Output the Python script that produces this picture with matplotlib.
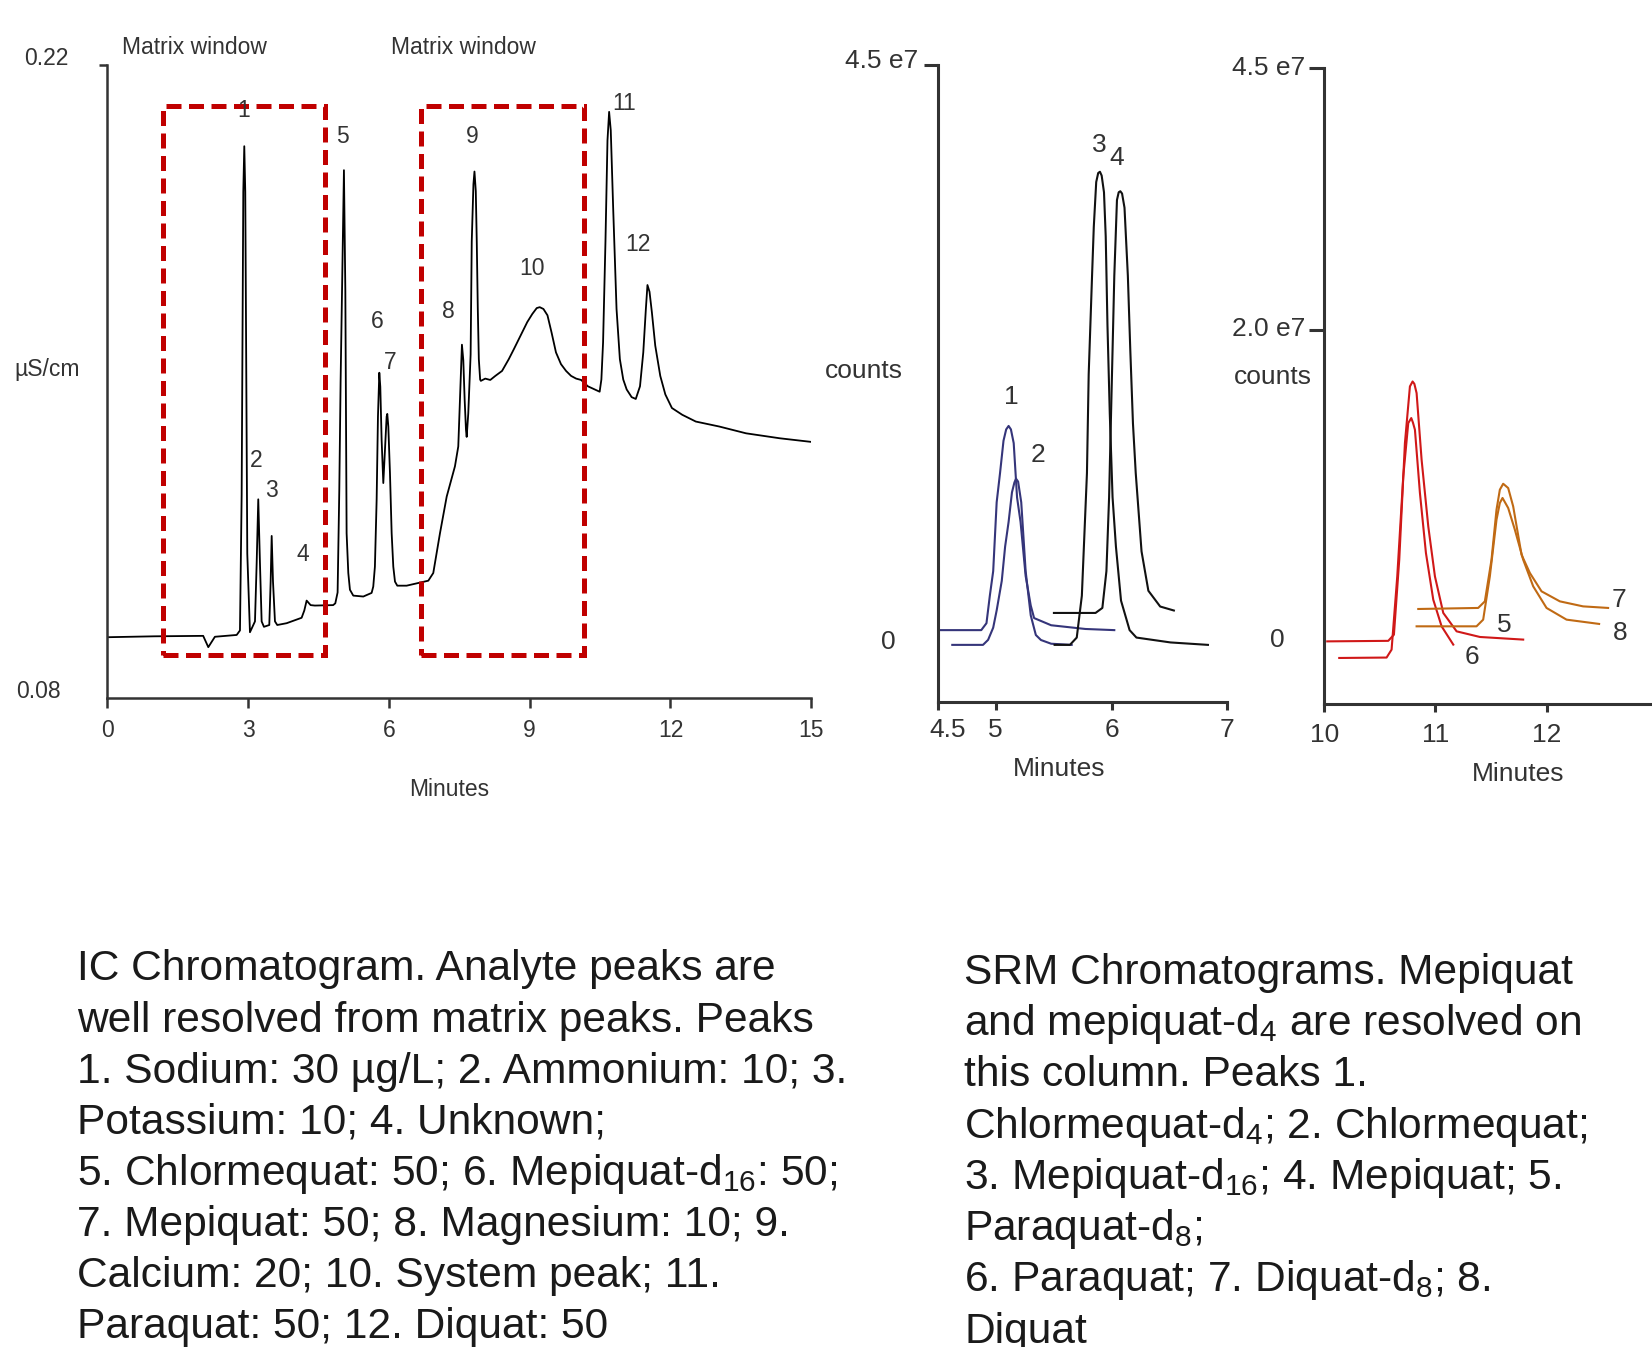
import matplotlib
matplotlib.use("Agg")
import matplotlib.pyplot as plt
from matplotlib.patches import Rectangle
from matplotlib.transforms import ScaledTranslation

plt.rcParams['font.family'] = ['Liberation Sans', 'DejaVu Sans']
plt.rcParams['mathtext.fontset'] = 'custom'
plt.rcParams['mathtext.rm'] = 'Liberation Sans'
plt.rcParams['mathtext.it'] = 'Liberation Sans:italic'
plt.rcParams['mathtext.bf'] = 'Liberation Sans:bold'
plt.rcParams['mathtext.default'] = 'regular'

# ---- IC chromatogram (minutes, uS/cm) ----
ic_time = [0.0, 1.0, 2.04, 2.149, 2.29, 2.754, 2.824, 2.86, 2.895, 2.916, 2.937, 2.98, 3.037,
           3.144, 3.18, 3.214, 3.25, 3.286, 3.335, 3.449, 3.478, 3.50, 3.528, 3.57, 3.619,
           3.819, 4.138, 4.195, 4.245, 4.33, 4.42, 4.81, 4.856, 4.905, 4.941, 4.969, 5.04,
           5.07, 5.097, 5.133, 5.168, 5.239, 5.453, 5.63, 5.665, 5.70, 5.737, 5.765, 5.794,
           5.815, 5.843, 5.879, 5.914, 5.95, 5.964, 5.986, 6.021, 6.057, 6.092, 6.128, 6.177,
           6.376, 6.838, 6.944, 7.087, 7.23, 7.406, 7.477, 7.513, 7.555, 7.584, 7.613, 7.641,
           7.656, 7.69, 7.74, 7.764, 7.80, 7.822, 7.85, 7.871, 7.893, 7.915, 7.943, 7.958,
           8.052, 8.159, 8.267, 8.41, 8.553, 8.661, 8.804, 8.947, 9.055, 9.149, 9.213, 9.292,
           9.378, 9.465, 9.559, 9.666, 9.774, 9.881, 9.989, 10.096, 10.239, 10.383, 10.49,
           10.527, 10.563, 10.614, 10.657, 10.692, 10.727, 10.778, 10.85, 10.921, 10.993,
           11.066, 11.172, 11.26, 11.35, 11.42, 11.475, 11.509, 11.553, 11.603, 11.675,
           11.782, 11.89, 12.03, 12.25, 12.54, 13.04, 13.61, 14.33, 15.0]
ic_signal = [0.0935, 0.0937, 0.0938, 0.0913, 0.0936, 0.0940, 0.0950, 0.125, 0.192, 0.2021,
             0.192, 0.112, 0.0946, 0.0970, 0.1099, 0.1240, 0.1099, 0.0970, 0.0958, 0.0962,
             0.1058, 0.1159, 0.1058, 0.0970, 0.0962, 0.0966, 0.0978, 0.0994, 0.1016, 0.1006,
             0.1005, 0.1006, 0.1010, 0.1034, 0.1260, 0.1501, 0.1968, 0.1700, 0.1165, 0.1077,
             0.1040, 0.1027, 0.1025, 0.1033, 0.1047, 0.1091, 0.1239, 0.1423, 0.1520, 0.1489,
             0.1372, 0.1276, 0.1349, 0.1423, 0.1429, 0.1401, 0.1298, 0.1165, 0.1091, 0.1058,
             0.1049, 0.1049, 0.1060, 0.1077, 0.1165, 0.1246, 0.1313, 0.1357, 0.1460, 0.1582,
             0.1548, 0.1460, 0.1394, 0.1378, 0.1430, 0.1560, 0.1810, 0.1937, 0.1965, 0.1922,
             0.1810, 0.1661, 0.1550, 0.1505, 0.1502, 0.1507, 0.1504, 0.1513, 0.1524, 0.1550,
             0.1572, 0.1602, 0.1632, 0.1650, 0.1663, 0.1665, 0.1661, 0.1647, 0.1609, 0.1565,
             0.1539, 0.1524, 0.1513, 0.1507, 0.1504, 0.1490, 0.1483, 0.1478, 0.1505, 0.1587,
             0.1810, 0.2034, 0.2097, 0.2056, 0.1885, 0.1661, 0.1550, 0.1505, 0.1483, 0.1466,
             0.1462, 0.1490, 0.1565, 0.1661, 0.1714, 0.1699, 0.1654, 0.1580, 0.1513, 0.1472,
             0.1442, 0.1427, 0.1412, 0.1401, 0.1386, 0.1375, 0.1367]
ic_peak_ids = ['1', '2', '3', '4', '5', '6', '7', '8', '9', '10', '11', '12']
ic_peak_t = [2.897, 3.166, 3.503, 4.155, 5.008, 5.749, 6.018, 7.276, 7.770, 9.050, 11.004, 11.296]
ic_peak_v = [0.2100, 0.1326, 0.1259, 0.1117, 0.2042, 0.1634, 0.1543, 0.1655, 0.2042, 0.1750, 0.2116, 0.1804]
matrix_start = [1.19, 6.69]
matrix_end = [4.63, 10.15]
matrix_low, matrix_high = 0.0896, 0.2111

# ---- SRM chromatograms, peaks 1-4 (minutes, counts x 1e7) ----
srm1_t = [4.479, 4.876, 4.921, 4.95, 4.979, 5.009, 5.038, 5.068, 5.091, 5.112, 5.132, 5.156,
          5.185, 5.215, 5.259, 5.303, 5.332, 5.479, 5.774, 6.024]
srm1_c = [0.096, 0.096, 0.15, 0.364, 0.556, 1.093, 1.32, 1.573, 1.661, 1.688, 1.661, 1.554,
          1.13, 0.94, 0.518, 0.288, 0.19, 0.134, 0.105, 0.096]
srm2_t = [4.626, 4.891, 4.935, 4.979, 5.009, 5.053, 5.082, 5.112, 5.141, 5.162, 5.176, 5.194,
          5.221, 5.259, 5.303, 5.347, 5.391, 5.479, 5.656]
srm2_c = [-0.019, -0.019, 0.02, 0.115, 0.25, 0.48, 0.748, 0.94, 1.17, 1.247, 1.277, 1.254,
          1.093, 0.556, 0.211, 0.058, 0.019, -0.01, -0.019]
srm3_t = [5.509, 5.641, 5.70, 5.744, 5.788, 5.803, 5.832, 5.847, 5.868, 5.885, 5.90, 5.915,
          5.935, 5.95, 5.965, 5.985, 6.009, 6.038, 6.082, 6.156, 6.215, 6.362, 6.509, 6.832]
srm3_c = [-0.019, -0.019, 0.038, 0.364, 1.32, 2.09, 2.858, 3.24, 3.59, 3.66, 3.67, 3.64,
          3.51, 3.165, 2.474, 1.784, 1.132, 0.748, 0.326, 0.096, 0.038, 0.019, 0.0, -0.019]
srm4_t = [5.503, 5.862, 5.921, 5.956, 5.979, 5.994, 6.009, 6.024, 6.047, 6.062, 6.076, 6.091,
          6.112, 6.141, 6.162, 6.185, 6.209, 6.259, 6.318, 6.42, 6.538]
srm4_c = [0.23, 0.23, 0.269, 0.556, 1.13, 1.707, 2.28, 2.858, 3.45, 3.51, 3.518, 3.50,
          3.39, 2.858, 2.28, 1.707, 1.32, 0.71, 0.403, 0.28, 0.249]
srm_a_ids = ['1', '2', '3', '4']
srm_a_t = [5.136, 5.364, 5.891, 6.045]
srm_a_c = [1.913, 1.462, 3.876, 3.777]

# ---- SRM chromatograms, peaks 5-8 ----
srm5_t = [10.026, 10.575, 10.626, 10.674, 10.725, 10.77, 10.794, 10.81, 10.83, 10.875, 10.935,
          10.995, 11.07, 11.19, 11.4, 11.789]
srm5_c = [-0.985, -0.98, -0.921, -0.203, 0.914, 1.456, 1.503, 1.48, 1.392, 0.754, 0.116,
          -0.363, -0.713, -0.889, -0.943, -0.968]
srm6_t = [10.134, 10.56, 10.605, 10.656, 10.71, 10.755, 10.782, 10.797, 10.815, 10.86, 10.914,
          10.98, 11.055, 11.16]
srm6_c = [-1.144, -1.14, -1.064, -0.363, 0.594, 1.105, 1.153, 1.11, 1.041, 0.435, -0.139,
          -0.586, -0.841, -1.016]
srm7_t = [10.845, 11.384, 11.444, 11.504, 11.549, 11.579, 11.609, 11.654, 11.699, 11.774,
          11.849, 11.954, 12.119, 12.328, 12.553]
srm7_c = [-0.675, -0.665, -0.602, -0.203, 0.276, 0.467, 0.524, 0.483, 0.307, -0.155, -0.33,
          -0.506, -0.602, -0.65, -0.665]
srm8_t = [10.83, 11.369, 11.429, 11.489, 11.549, 11.579, 11.603, 11.654, 11.714, 11.789,
          11.879, 11.999, 12.179, 12.472]
srm8_c = [-0.841, -0.841, -0.777, -0.363, 0.18, 0.34, 0.388, 0.292, 0.084, -0.203, -0.458,
          -0.665, -0.777, -0.818]
srm_b_ids = ['5', '6', '7', '8']
srm_b_t = [11.621, 11.327, 12.654, 12.664]
srm_b_c = [-0.833, -1.135, -0.591, -0.903]

left_caption = [
    "IC Chromatogram. Analyte peaks are",
    "well resolved from matrix peaks. Peaks",
    "1. Sodium: 30 \u00b5g/L; 2. Ammonium: 10; 3.",
    "Potassium: 10; 4. Unknown;",
    "5. Chlormequat: 50; 6. Mepiquat-d$_{16}$: 50;",
    "7. Mepiquat: 50; 8. Magnesium: 10; 9.",
    "Calcium: 20; 10. System peak; 11.",
    "Paraquat: 50; 12. Diquat: 50",
]
right_caption = [
    "SRM Chromatograms. Mepiquat",
    "and mepiquat-d$_4$ are resolved on",
    "this column. Peaks 1.",
    "Chlormequat-d$_4$; 2. Chlormequat;",
    "3. Mepiquat-d$_{16}$; 4. Mepiquat; 5.",
    "Paraquat-d$_8$;",
    "6. Paraquat; 7. Diquat-d$_8$; 8.",
    "Diquat",
]

# layout is measured in pixels of a 1568 x 1279 grid
W, H = 1568.0, 1279.0
def fx(x):
    return x / W
def fy(y):
    return 1 - y / H

TXT = '#333333'
fig = plt.figure(figsize=(16.52, 13.47), dpi=100)

def style_axes(ax, lw, size):
    for s in ['top', 'right']:
        ax.spines[s].set_visible(False)
    for s in ['left', 'bottom']:
        ax.spines[s].set_linewidth(lw)
        ax.spines[s].set_color(TXT)
    ax.tick_params(colors=TXT, width=lw, labelsize=size)

def shift(lab, dx_pt, dy_pt):
    lab.set_transform(lab.get_transform() + ScaledTranslation(dx_pt / 72, dy_pt / 72, fig.dpi_scale_trans))

# ---- panel 1 ----
ax1 = fig.add_axes([fx(102), fy(663), fx(770) - fx(102), fy(62) - fy(663)])
ax1.plot(ic_time, ic_signal, color='black', lw=1.3)
for a, b in zip(matrix_start, matrix_end):
    ax1.add_patch(Rectangle((a, matrix_low), b - a, matrix_high - matrix_low, fill=False,
                            ec='#C00000', lw=3.6, ls=(0, (3, 1.5)), zorder=3))
for n, t, v in zip(ic_peak_ids, ic_peak_t, ic_peak_v):
    ax1.text(t, v, n, ha='center', va='center', fontsize=16.5, color=TXT)
ax1.set_xlim(0, 15)
ax1.set_ylim(0.08, 0.22)
style_axes(ax1, 1.8, 16.5)
ax1.set_xticks([0, 3, 6, 9, 12, 15])
ax1.tick_params(axis='x', length=7, pad=8)
ax1.set_yticks([0.08, 0.22])
ax1.set_yticklabels(['0.08', '0.22'])
ax1.tick_params(axis='y', length=6, pad=22)
ax1.yaxis.get_major_ticks()[0].tick1line.set_visible(False)
ylabs = ax1.get_yticklabels()
shift(ylabs[0], -5.5, 6.8)
shift(ylabs[1], 0, 6.8)
fig.text(fx(45), fy(351), "\u00b5S/cm", ha='center', va='center', fontsize=16.5, color=TXT)
fig.text(fx(426), fy(750), "Minutes", ha='center', va='center', fontsize=16.5, color=TXT)
fig.text(fx(185), fy(45), "Matrix window", ha='center', va='center', fontsize=16.5, color=TXT)
fig.text(fx(440), fy(45), "Matrix window", ha='center', va='center', fontsize=16.5, color=TXT)

# ---- panel 2 ----
ax2 = fig.add_axes([fx(890), fy(667), fx(1165) - fx(890), fy(62) - fy(667)])
ax2.plot(srm1_t, srm1_c, color='#35357A', lw=1.5)
ax2.plot(srm2_t, srm2_c, color='#35357A', lw=1.5)
ax2.plot(srm3_t, srm3_c, color='#111111', lw=1.5)
ax2.plot(srm4_t, srm4_c, color='#111111', lw=1.5)
for n, t, c in zip(srm_a_ids, srm_a_t, srm_a_c):
    ax2.text(t, c, n, ha='center', va='center', fontsize=19, color=TXT)
ax2.set_xlim(4.5, 7)
ax2.set_ylim(-0.468, 4.5)
style_axes(ax2, 2.2, 19)
ax2.set_xticks([4.5, 5, 6, 7])
ax2.set_xticklabels(['4.5', '5', '6', '7'])
ax2.tick_params(axis='x', length=6, pad=5)
shift(ax2.get_xticklabels()[0], 7.5, 0)
ax2.set_yticks([4.5])
ax2.set_yticklabels(['4.5 e7'])
ax2.tick_params(axis='y', length=10, pad=4)
shift(ax2.get_yticklabels()[0], 0, 5)
fig.text(fx(843), fy(610), "0", ha='center', va='center', fontsize=19, color=TXT)
fig.text(fx(820), fy(352), "counts", ha='center', va='center', fontsize=19, color=TXT)
fig.text(fx(1005), fy(730), "Minutes", ha='center', va='center', fontsize=19, color=TXT)

# ---- panel 3 ----
ax3 = fig.add_axes([fx(1257), fy(668), fx(1257 + 3.2 * 105.5) - fx(1257), fy(65) - fy(668)])
ax3.plot(srm5_t, srm5_c, color='#D01818', lw=1.5)
ax3.plot(srm6_t, srm6_c, color='#D01818', lw=1.5)
ax3.plot(srm7_t, srm7_c, color='#C06A14', lw=1.5)
ax3.plot(srm8_t, srm8_c, color='#C06A14', lw=1.5)
for n, t, c in zip(srm_b_ids, srm_b_t, srm_b_c):
    ax3.text(t, c, n, ha='center', va='center', fontsize=19, color=TXT)
ax3.set_xlim(10, 13.2)
ax3.set_ylim(-1.58, 4.5)
style_axes(ax3, 2.2, 19)
ax3.set_xticks([10, 11, 12])
ax3.tick_params(axis='x', length=6, pad=8)
ax3.set_yticks([2.0, 4.5])
ax3.set_yticklabels(['2.0 e7', '4.5 e7'])
ax3.tick_params(axis='y', length=11, pad=3)
for lab in ax3.get_yticklabels():
    shift(lab, 0, 2)
fig.text(fx(1212), fy(608), "0", ha='center', va='center', fontsize=19, color=TXT)
fig.text(fx(1208), fy(358), "counts", ha='center', va='center', fontsize=19, color=TXT)
fig.text(fx(1441), fy(735), "Minutes", ha='center', va='center', fontsize=19, color=TXT)

# ---- captions ----
for i, line in enumerate(left_caption):
    fig.text(fx(73), fy(931 + 48.5 * i), line, ha='left', va='baseline', fontsize=30.6, color='#1a1a1a')
for i, line in enumerate(right_caption):
    fig.text(fx(915), fy(934 + 48.7 * i), line, ha='left', va='baseline', fontsize=30.6, color='#1a1a1a')

fig.savefig('out.png', dpi=100)
